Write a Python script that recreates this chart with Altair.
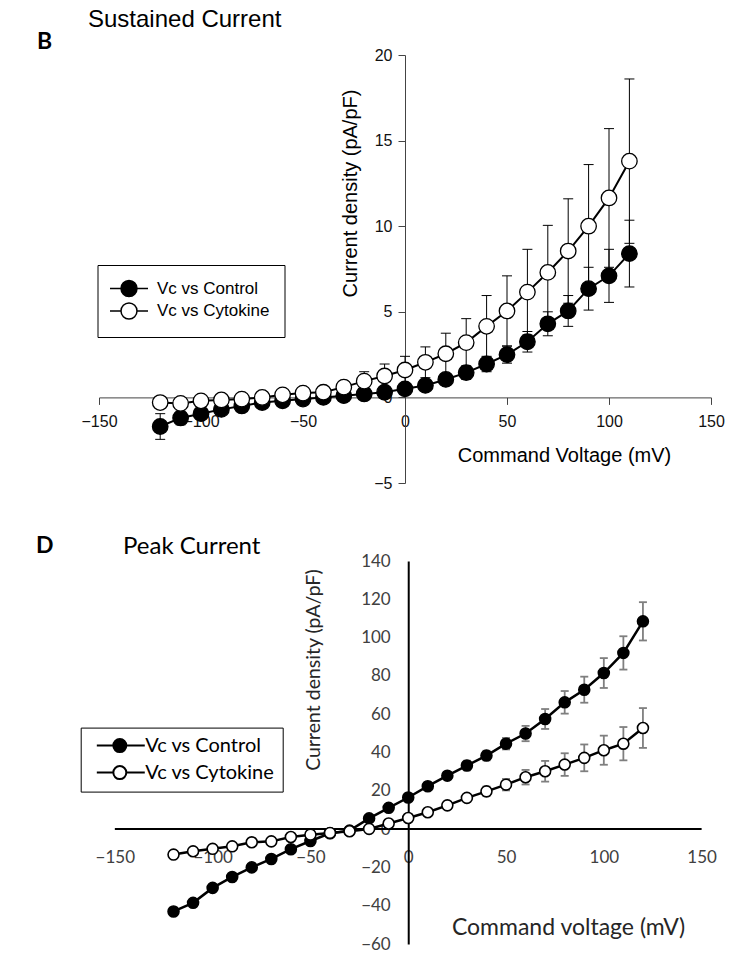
import altair as alt
import pandas as pd

SERIES = ["Vc vs Control", "Vc vs Cytokine"]

# ---- Panel B: sustained current density (pA/pF), mean and SEM ----
sus_mv = [-120, -110, -100, -90, -80, -70, -60, -50, -40, -30, -20, -10,
          0, 10, 20, 30, 40, 50, 60, 70, 80, 90, 100, 110]
sus_ctrl = [-1.7, -1.2, -0.95, -0.7, -0.5, -0.3, -0.2, -0.1, 0.0, 0.1, 0.2, 0.3,
            0.5, 0.7, 1.05, 1.45, 1.95, 2.5, 3.25, 4.3, 5.05, 6.35, 7.1, 8.4]
sus_ctrl_err = [0.75, 0.4, 0.3, 0.2, 0.2, 0.15, 0.15, 0.15, 0.15, 0.2, 0.2, 0.25,
                0.3, 0.3, 0.35, 0.4, 0.45, 0.5, 0.6, 0.7, 0.9, 1.25, 1.55, 1.95]
sus_cyto = [-0.3, -0.35, -0.2, -0.15, -0.1, 0.0, 0.15, 0.25, 0.3, 0.6, 0.95, 1.25,
            1.6, 2.05, 2.55, 3.2, 4.15, 5.05, 6.15, 7.3, 8.55, 10.0, 11.65, 13.8]
sus_cyto_err = [0.3, 0.3, 0.2, 0.2, 0.2, 0.2, 0.2, 0.25, 0.3, 0.35, 0.55, 0.7,
                0.8, 0.9, 1.2, 1.4, 1.8, 2.05, 2.5, 2.75, 3.05, 3.6, 4.05, 4.8]
sus_x_domain = [-150, 150]
sus_y_domain = [-5, 20]
sus_x_ticks = [-150, -100, -50, 0, 50, 100, 150]
sus_y_ticks = [-5, 0, 5, 10, 15, 20]

# ---- Panel D: peak current density (pA/pF), mean and SEM ----
peak_mv = [-120, -110, -100, -90, -80, -70, -60, -50, -40, -30, -20, -10, 0,
           10, 20, 30, 40, 50, 60, 70, 80, 90, 100, 110, 120]
peak_ctrl = [-43.0, -38.5, -30.7, -25.0, -20.0, -15.6, -10.5, -6.2, -2.2, -0.8, 5.6, 11.1, 16.5,
             22.4, 27.9, 33.2, 38.4, 44.6, 49.9, 57.5, 66.2, 72.8, 81.5, 92.0, 108.5]
peak_ctrl_err = [2.0, 2.0, 1.8, 1.5, 1.5, 1.5, 1.5, 1.5, 1.5, 1.5, 1.5, 1.8, 2.0,
                 2.0, 2.0, 2.5, 2.5, 3.0, 4.0, 5.2, 5.9, 6.8, 7.8, 8.7, 10.0]
peak_cyto = [-13.3, -11.6, -10.3, -9.0, -6.9, -6.4, -4.1, -2.9, -2.0, -1.1, 0.1, 2.9, 5.8,
             8.8, 12.4, 16.3, 19.7, 23.2, 27.1, 30.2, 33.7, 37.2, 41.2, 44.6, 52.8]
peak_cyto_err = [1.0, 1.0, 1.0, 1.0, 1.0, 1.0, 1.0, 1.0, 1.0, 1.0, 1.2, 1.5, 1.5,
                 1.5, 2.0, 2.0, 2.5, 3.0, 3.8, 5.4, 5.9, 7.0, 7.6, 8.7, 10.4]
peak_x_domain = [-158.1, 154.8]
peak_x_line = [-150, 150]
peak_y_domain = [-60, 140]
peak_x_ticks = [-150, -100, -50, 0, 50, 100, 150]
peak_y_ticks = [-60, -40, -20, 0, 20, 40, 60, 80, 100, 120, 140]

ARIAL = "Liberation Sans"
CALIBRI = "Lato"


def long_frame(mv, ctrl, ctrl_err, cyto, cyto_err):
    parts = []
    for name, mean, err in ((SERIES[0], ctrl, ctrl_err), (SERIES[1], cyto, cyto_err)):
        parts.append(pd.DataFrame({"mv": mv, "current": mean, "err": err, "series": name}))
    df = pd.concat(parts, ignore_index=True)
    df["lo"] = df["current"] - df["err"]
    df["hi"] = df["current"] + df["err"]
    return df


def legend_path(start, left, right, centre):
    # unit circle centred at `centre`, leader line from `start` through it
    a, b = centre - 1, centre + 1
    return (f"M{start},0L{a},0M{b},0L{b + right},0"
            f"M{b},0A1,1,0,1,1,{a},0A1,1,0,1,1,{b},0Z")


def label(text, x, y, font, size, weight="normal"):
    return alt.Chart(pd.DataFrame({"t": [text]})).mark_text(
        font=font, fontSize=size, fontWeight=weight, align="left",
        baseline="top", color="black"
    ).encode(text="t:N", x=alt.value(x), y=alt.value(y))


# ================= Panel B =================
W_B, H_B = 612, 428
sus = long_frame(sus_mv, sus_ctrl, sus_ctrl_err, sus_cyto, sus_cyto_err)
xb_off = H_B * sus_y_domain[1] / (sus_y_domain[1] - sus_y_domain[0]) - H_B
yb_off = -W_B * (0 - sus_x_domain[0]) / (sus_x_domain[1] - sus_x_domain[0])

b_axis_common = dict(
    grid=False, domainColor="#444444", domainWidth=1, tickColor="#444444",
    tickWidth=1, tickSize=7, labelFont=ARIAL, labelFontSize=16,
    labelColor="#111111", labelFlush=False, labelOverlap=False,
    titleFont=ARIAL, titleFontSize=20, titleFontWeight="normal",
    titleColor="black", titleAlign="center", titleBaseline="middle",
)
xb = dict(field="mv", type="quantitative",
          scale=alt.Scale(domain=sus_x_domain, nice=False, zero=False),
          axis=alt.Axis(values=sus_x_ticks, offset=xb_off, labelPadding=9,
                        title="Command Voltage (mV)", titleX=465, titleY=58,
                        **b_axis_common))
yb_scale = alt.Scale(domain=sus_y_domain, nice=False, zero=False)
yb_axis = alt.Axis(values=sus_y_ticks, offset=yb_off, labelPadding=6,
                   title="Current density (pA/pF)", titleX=-55, titleY=138,
                   titleAngle=270, **b_axis_common)


def yb(field):
    return alt.Y(field, type="quantitative", scale=yb_scale, axis=yb_axis)


base_b = alt.Chart(sus)
b_err = base_b.mark_rule(color="black", strokeWidth=1).encode(
    x=alt.X(**xb), y=yb("lo"), y2="hi")
b_cap_hi = base_b.mark_tick(orient="horizontal", size=10, thickness=1,
                            color="black", opacity=1).encode(x=alt.X(**xb), y=yb("hi"))
b_cap_lo = base_b.mark_tick(orient="horizontal", size=10, thickness=1,
                            color="black", opacity=1).encode(x=alt.X(**xb), y=yb("lo"))
b_line = base_b.mark_line(color="black", strokeWidth=2).encode(
    x=alt.X(**xb), y=yb("current"), detail="series:N", order="mv:Q")
b_pts = base_b.mark_point(shape="circle", filled=True, size=240, stroke="black",
                          strokeWidth=1.3, opacity=1).encode(
    x=alt.X(**xb), y=yb("current"),
    fill=alt.Fill("series:N", scale=alt.Scale(domain=SERIES, range=["black", "white"]),
                  legend=alt.Legend(
                      title=None, orient="none", legendX=-1.5, legendY=210,
                      symbolType=legend_path(-1.375, 1.375, 1.375, 1.0), symbolSize=256,
                      symbolStrokeColor="black", symbolStrokeWidth=1.5,
                      symbolOpacity=1, labelFont=ARIAL, labelFontSize=17,
                      labelColor="black", labelOffset=27, rowPadding=0.5,
                      padding=14.5, strokeColor="black", fillColor="white")))

panel_b = alt.layer(
    b_err, b_cap_hi, b_cap_lo, b_line, b_pts,
    label("B", -62, -24, CALIBRI, 23, "bold"),
    label("Sustained Current", -11, -47, ARIAL, 24),
).properties(width=W_B, height=H_B)

# ================= Panel D =================
W_D, H_D = 612, 383
peak = long_frame(peak_mv, peak_ctrl, peak_ctrl_err, peak_cyto, peak_cyto_err)
xd_off = H_D * peak_y_domain[1] / (peak_y_domain[1] - peak_y_domain[0]) - H_D
yd_off = -W_D * (0 - peak_x_domain[0]) / (peak_x_domain[1] - peak_x_domain[0])

d_axis_common = dict(
    grid=False, domainColor="black", domainWidth=2, ticks=False, tickSize=0,
    labelFont=CALIBRI, labelFontSize=17, labelColor="#404040",
    labelFlush=False, labelOverlap=False,
    titleFont=CALIBRI, titleFontWeight="normal", titleColor="#262626",
    titleAlign="center", titleBaseline="middle",
)
xd_scale = alt.Scale(domain=peak_x_domain, nice=False, zero=False)
xd_axis = alt.Axis(values=peak_x_ticks, offset=xd_off, labelPadding=20, domain=False,
                   title="Command voltage (mV)", titleX=469, titleY=98.5,
                   titleFontSize=23, **d_axis_common)
yd_scale = alt.Scale(domain=peak_y_domain, nice=False, zero=False)
yd_axis = alt.Axis(values=peak_y_ticks, offset=yd_off, labelPadding=18,
                   title="Current density (pA/pF)", titleX=-95, titleY=108.6,
                   titleAngle=270, titleFontSize=19.5, **d_axis_common)


def xd(field):
    return alt.X(field, type="quantitative", scale=xd_scale, axis=xd_axis)


def yd(field):
    return alt.Y(field, type="quantitative", scale=yd_scale, axis=yd_axis)


zero_line = alt.Chart(pd.DataFrame({"x0": [peak_x_line[0]], "x1": [peak_x_line[1]], "y": [0]})
                      ).mark_rule(color="black", strokeWidth=2).encode(
    x=xd("x0"), x2="x1", y=yd("y"))

base_d = alt.Chart(peak)
d_err = base_d.mark_rule(color="#7f7f7f", strokeWidth=1.8).encode(
    x=xd("mv"), y=yd("lo"), y2="hi")
d_cap_hi = base_d.mark_tick(orient="horizontal", size=8, thickness=1.8,
                            color="#7f7f7f", opacity=1).encode(x=xd("mv"), y=yd("hi"))
d_cap_lo = base_d.mark_tick(orient="horizontal", size=8, thickness=1.8,
                            color="#7f7f7f", opacity=1).encode(x=xd("mv"), y=yd("lo"))
d_line = base_d.mark_line(color="black", strokeWidth=2.5).encode(
    x=xd("mv"), y=yd("current"), detail="series:N", order="mv:Q")
d_pts = base_d.mark_point(shape="circle", filled=True, size=120, stroke="black",
                          strokeWidth=1.6, opacity=1).encode(
    x=xd("mv"), y=yd("current"),
    fill=alt.Fill("series:N", scale=alt.Scale(domain=SERIES, range=["black", "white"]),
                  legend=alt.Legend(
                      title=None, orient="none", legendX=-18.3, legendY=166.6,
                      symbolType=legend_path(-0.29, 2.54, 2.84, 3.25), symbolSize=169,
                      symbolStrokeColor="black", symbolStrokeWidth=2,
                      symbolOpacity=1, labelFont=CALIBRI, labelFontSize=20,
                      labelColor="black", labelOffset=36.5, rowPadding=5,
                      padding=8, strokeColor="black", fillColor="white")))

panel_d = alt.layer(
    zero_line, d_err, d_cap_hi, d_cap_lo, d_line, d_pts,
    label("D", -63, -26, CALIBRI, 23, "bold"),
    label("Peak Current", 24, -26, CALIBRI, 24),
).properties(width=W_D, height=H_D)

chart = alt.vconcat(panel_b, panel_d, spacing=78, bounds="flush").resolve_scale(
    fill="independent").resolve_legend(fill="independent").configure_view(
    stroke=None).properties(
    padding={"left": 36, "top": 8, "right": 0, "bottom": 0},
    background="white")

chart.save("out.html", embed_options={"renderer": "svg", "actions": False})
